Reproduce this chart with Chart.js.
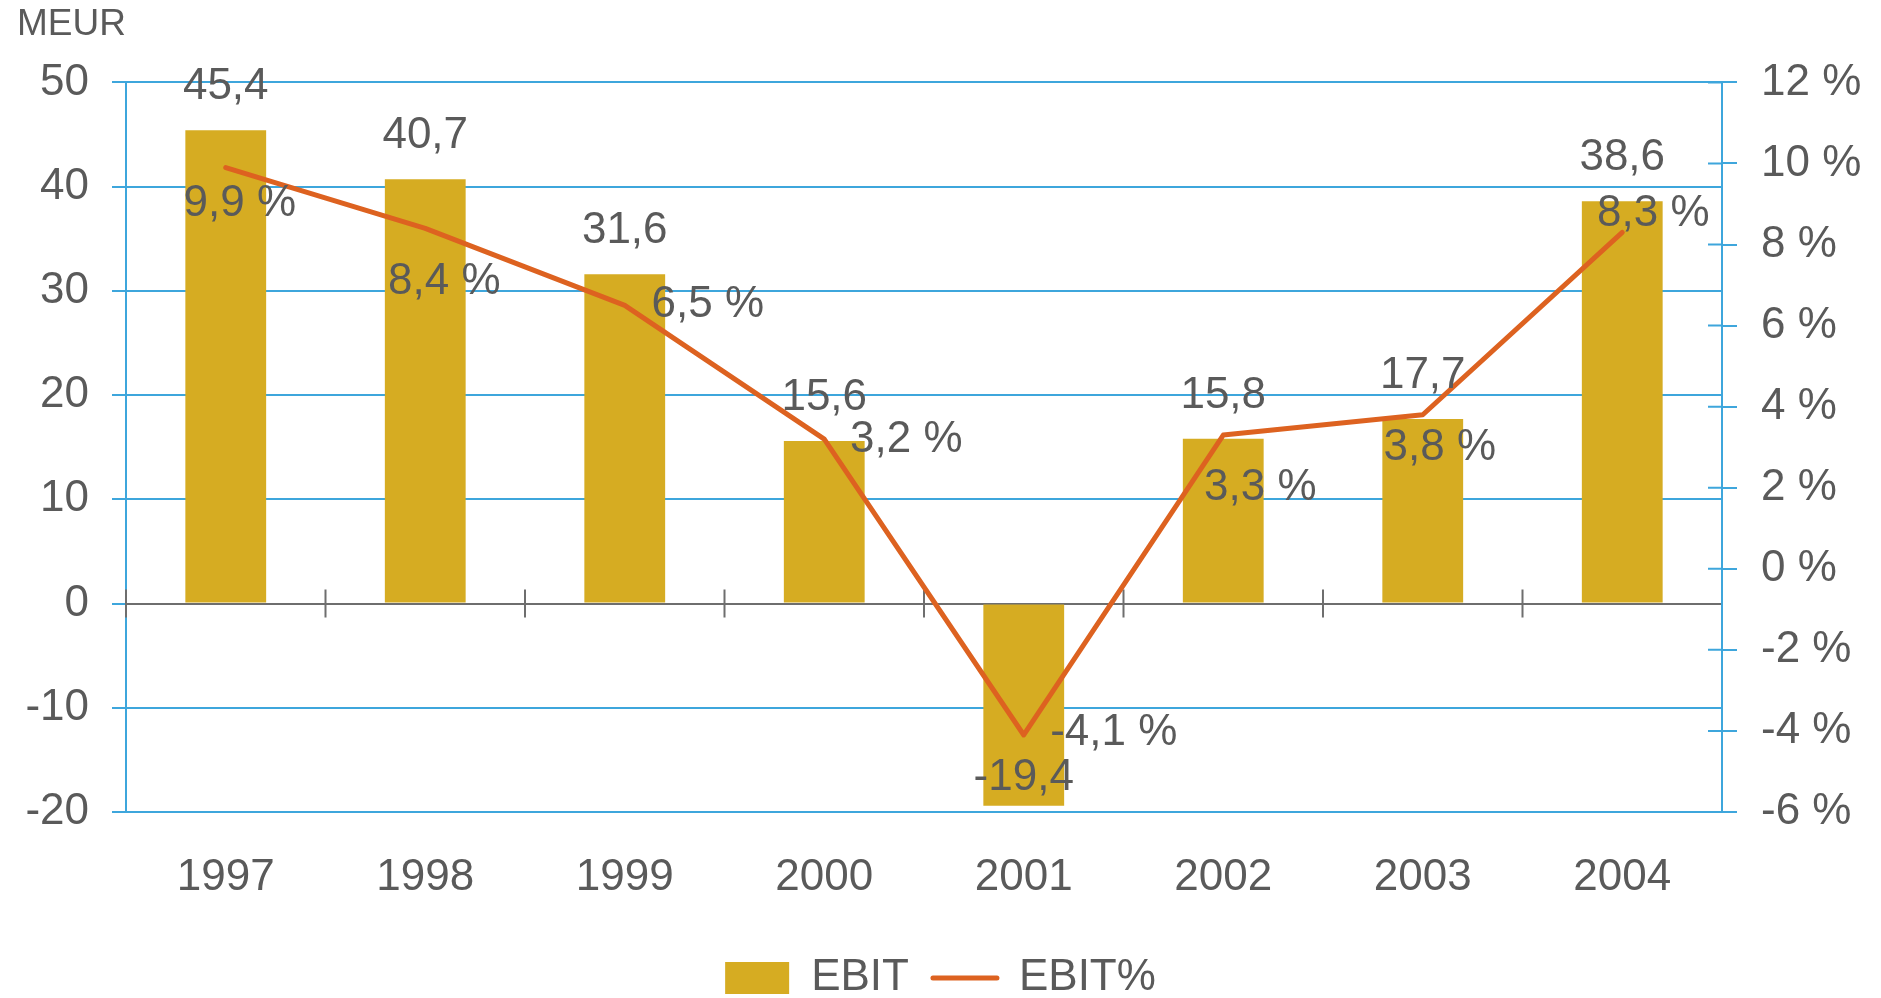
<!DOCTYPE html>
<html>
<head>
<meta charset="utf-8">
<title>EBIT 1997–2004</title>
<script src="https://cdn.jsdelivr.net/npm/chart.js@4.4.1/dist/chart.umd.min.js"></script>
<style>
  html, body { margin: 0; padding: 0; background: #fff; }
  canvas { display: block; }
</style>
</head>
<body>
<canvas id="ebitChart" width="1881" height="998"></canvas>
<script>
// Values
const years = ["1997", "1998", "1999", "2000", "2001", "2002", "2003", "2004"];
const ebit = [45.4, 40.7, 31.6, 15.6, -19.4, 15.8, 17.7, 38.6];   // MEUR
const ebitPct = [9.9, 8.4, 6.5, 3.2, -4.1, 3.3, 3.8, 8.3];       // %
const leftTicks = [-20, -10, 0, 10, 20, 30, 40, 50];
const rightTicks = [-6, -4, -2, 0, 2, 4, 6, 8, 10, 12];

// where each % label sits relative to its point (px), like in the original
const pctLabelShift = [[14, 36], [19, 54], [83, 0], [82, 1], [90, -2], [37, 53], [17, 33], [31, -19]];

const GOLD = "#d6ac22";
const ORANGE = "#dd6220";
const BLUE = "#3ea6dc";
const AXIS_GRAY = "#6e6e6e";
const TEXT = "#5a5a5a";
const FONT = "'Liberation Sans', Arial, Helvetica, sans-serif";

Chart.defaults.font.family = FONT;
Chart.defaults.color = TEXT;

const fmt = (v) => v.toFixed(1).replace(".", ",");

// zero line ticks at the year boundaries + inner half of the right axis ticks
const crossTicks = {
  id: "crossTicks",
  beforeDatasetsDraw(chart) {
    const { ctx, scales: { x, y, y1 } } = chart;
    ctx.save();
    ctx.lineWidth = 2;
    ctx.strokeStyle = AXIS_GRAY;
    const y0 = y.getPixelForValue(0);
    const half = (x.getPixelForValue(1) - x.getPixelForValue(0)) / 2;
    ctx.beginPath();
    for (let i = 0; i < years.length; i++) {
      const bx = x.getPixelForValue(i) - half;
      ctx.moveTo(bx, y0 - 14);
      ctx.lineTo(bx, y0 + 14);
    }
    ctx.stroke();
    ctx.strokeStyle = BLUE;
    ctx.beginPath();
    y1.ticks.forEach((t) => {
      const py = y1.getPixelForValue(t.value);
      ctx.moveTo(y1.left - 14, py);
      ctx.lineTo(y1.left, py);
    });
    ctx.stroke();
    ctx.restore();
  },
};

// value labels for bars and line
const valueLabels = {
  id: "valueLabels",
  afterDatasetsDraw(chart) {
    const ctx = chart.ctx;
    ctx.save();
    ctx.font = "44px " + FONT;
    ctx.fillStyle = TEXT;
    ctx.textAlign = "center";
    ctx.textBaseline = "middle";
    chart.getDatasetMeta(0).data.forEach((bar, i) => {
      const ly = ebit[i] >= 0 ? bar.y - 43 : bar.y - 28;
      ctx.fillText(fmt(ebit[i]), bar.x, ly);
    });
    chart.getDatasetMeta(1).data.forEach((pt, i) => {
      const [dx, dy] = pctLabelShift[i];
      ctx.fillText(fmt(ebitPct[i]) + " %", pt.x + dx, pt.y + dy);
    });
    ctx.restore();
  },
};

new Chart(document.getElementById("ebitChart"), {
  data: {
    labels: years,
    datasets: [
      {
        type: "bar",
        label: "EBIT",
        data: ebit,
        backgroundColor: GOLD,
        yAxisID: "y",
        order: 1,
        barPercentage: 0.405,
        categoryPercentage: 1,
      },
      {
        type: "line",
        label: "EBIT%",
        data: ebitPct,
        borderColor: ORANGE,
        backgroundColor: ORANGE,
        borderWidth: 5,
        borderJoinStyle: "round",
        borderCapStyle: "round",
        pointRadius: 0,
        tension: 0,
        yAxisID: "y1",
        order: 0,
      },
    ],
  },
  options: {
    responsive: false,
    animation: false,
    layout: { padding: { left: 17, right: 17, top: 0, bottom: -12 } },
    scales: {
      x: {
        grid: { display: false, drawTicks: false },
        border: { display: false },
        ticks: { font: { size: 44 }, color: TEXT, padding: 39, maxRotation: 0 },
        afterFit: (s) => { s.height = 120; },
      },
      y: {
        position: "left",
        min: -20,
        max: 50,
        afterBuildTicks: (a) => { a.ticks = leftTicks.map((v) => ({ value: v })); },
        grid: {
          color: (c) => (c.tick && c.tick.value === 0 ? AXIS_GRAY : BLUE),
          tickColor: BLUE,
          lineWidth: 2,
          tickLength: 14,
        },
        border: { color: BLUE, width: 2 },
        ticks: { font: { size: 44 }, color: TEXT, padding: 23, callback: (v) => String(v) },
        afterFit: (s) => { s.width = 109; },
      },
      y1: {
        position: "right",
        min: -6,
        max: 12,
        afterBuildTicks: (a) => { a.ticks = rightTicks.map((v) => ({ value: v })); },
        grid: { drawOnChartArea: false, color: BLUE, lineWidth: 2, tickLength: 15 },
        border: { color: BLUE, width: 2 },
        ticks: { font: { size: 44 }, color: TEXT, padding: 24, callback: (v) => v + " %" },
        afterFit: (s) => { s.width = 142; },
      },
    },
    plugins: {
      title: {
        display: true,
        text: "MEUR",
        align: "start",
        color: TEXT,
        font: { size: 37, weight: "normal" },
        padding: { top: 3, bottom: 35 },
      },
      legend: {
        position: "bottom",
        labels: {
          color: TEXT,
          font: { size: 44 },
          usePointStyle: true,
          pointStyleWidth: 64,
          boxHeight: 32,
          padding: 24,
          sort: (a, b) => a.datasetIndex - b.datasetIndex,
          generateLabels(chart) {
            const items = Chart.defaults.plugins.legend.labels.generateLabels(chart);
            items.forEach((it) => {
              if (it.datasetIndex === 0) {
                it.pointStyle = "rect";
                it.lineWidth = 0;
              } else {
                it.pointStyle = "line";
                it.lineWidth = 5;
                it.lineCap = "round";
                it.strokeStyle = ORANGE;
              }
            });
            return items;
          },
        },
      },
      tooltip: { enabled: false },
    },
  },
  plugins: [crossTicks, valueLabels],
});
</script>
</body>
</html>
